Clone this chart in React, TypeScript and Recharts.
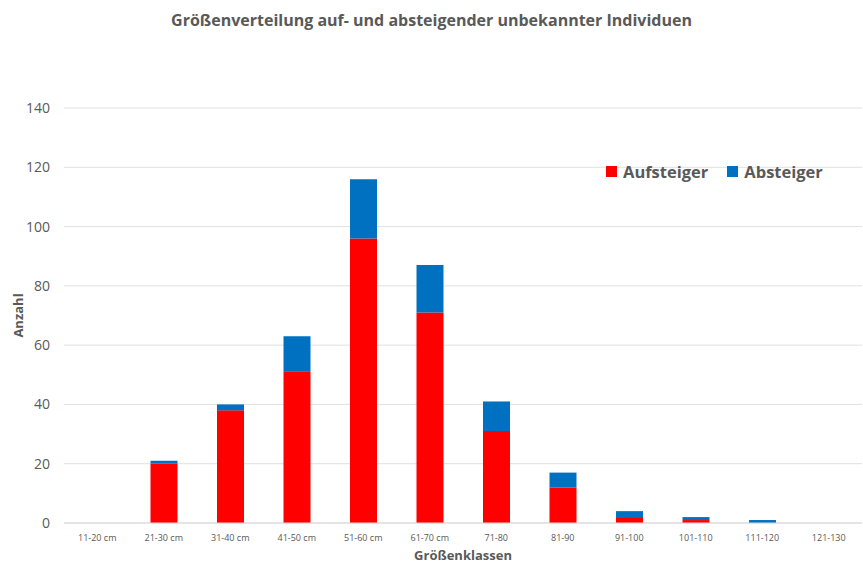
import React from 'react'
import {
    BarChart,
    Bar,
    XAxis,
    YAxis,
    CartesianGrid,
} from 'recharts'

const classes = [
    '11-20 cm', '21-30 cm', '31-40 cm', '41-50 cm', '51-60 cm', '61-70 cm',
    '71-80', '81-90', '91-100', '101-110', '111-120', '121-130',
]
const aufsteiger = [0, 20, 38, 51, 96, 71, 31, 12, 2, 1, 0, 0]
const absteiger = [0, 1, 2, 12, 20, 16, 10, 5, 2, 1, 1, 0]
const yTicks = [0, 20, 40, 60, 80, 100, 120, 140]

const data = classes.map((c, i) => ({
    name: c,
    Aufsteiger: aufsteiger[i],
    Absteiger: absteiger[i],
}))

const FONT = '"Open Sans", "Liberation Sans", sans-serif'
const GREY = '#595959'

const LegendBox = () => (
    <div
        style={{
            position: 'absolute',
            top: 160,
            left: 606,
            display: 'flex',
            alignItems: 'center',
            fontFamily: FONT,
            fontWeight: 700,
            fontSize: 16.5,
            color: GREY,
        }}
    >
        <span style={{ width: 11, height: 11, background: '#FF0000', display: 'inline-block', marginRight: 6 }} />
        <span style={{ marginRight: 19 }}>Aufsteiger</span>
        <span style={{ width: 11, height: 11, background: '#0070C0', display: 'inline-block', marginRight: 6 }} />
        <span>Absteiger</span>
    </div>
)

const App = () => {
    return (
        <div style={{ position: 'absolute', left: 0, top: 0, width: 863, height: 563, background: '#fff' }}>
            <div
                style={{
                    position: 'absolute',
                    top: 9,
                    width: 863,
                    textAlign: 'center',
                    fontFamily: FONT,
                    fontWeight: 700,
                    fontSize: 16,
                    color: GREY,
                }}
            >
                Größenverteilung auf- und absteigender unbekannter Individuen
            </div>
            <BarChart
                width={863}
                height={563}
                data={data}
                margin={{ top: 108, right: 1, left: 0, bottom: 0 }}
                barSize={27}
            >
                <CartesianGrid vertical={false} stroke="#e0e0e0" />
                <XAxis
                    dataKey="name"
                    height={40}
                    tickLine={false}
                    axisLine={{ stroke: '#d9d9d9' }}
                    interval={0}
                    tick={{ fontSize: 9, fill: GREY, fontFamily: FONT }}
                    tickMargin={6}
                    label={{
                        value: 'Größenklassen',
                        position: 'insideBottom',
                        offset: 3,
                        style: { fontSize: 13, fontWeight: 700, fill: GREY, fontFamily: FONT },
                    }}
                />
                <YAxis
                    width={64}
                    domain={[0, 140]}
                    ticks={yTicks}
                    tickLine={false}
                    axisLine={false}
                    tick={{ fontSize: 14, fill: GREY, fontFamily: FONT }}
                    tickMargin={8}
                    label={{
                        value: 'Anzahl',
                        angle: -90,
                        position: 'insideLeft',
                        offset: 18,
                        style: { fontSize: 13, fontWeight: 700, fill: GREY, fontFamily: FONT, textAnchor: 'middle' },
                    }}
                />
                <Bar dataKey="Aufsteiger" stackId="a" fill="#FF0000" isAnimationActive={false} />
                <Bar dataKey="Absteiger" stackId="a" fill="#0070C0" isAnimationActive={false} />
            </BarChart>
            <LegendBox />
        </div>
    )
}

export default App
